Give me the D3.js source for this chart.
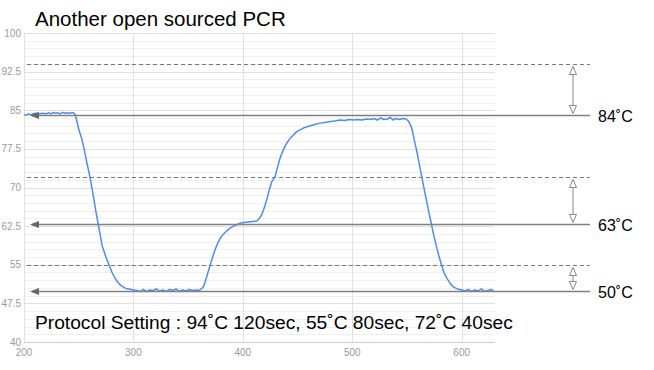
<!DOCTYPE html>
<html>
<head>
<meta charset="utf-8">
<script src="https://cdn.jsdelivr.net/npm/d3@7"></script>
<style>
  html, body { margin: 0; padding: 0; background: #fff; }
  svg { display: block; font-family: "Liberation Sans", Arial, sans-serif; }
</style>
</head>
<body>
<svg id="chart" width="654" height="370"></svg>
<script>
// ---- data ----
const title = "Another open sourced PCR";
const protocolText = "Protocol Setting : 94˚C 120sec, 55˚C 80sec, 72˚C 40sec";

const yTicks = [40, 47.5, 55, 62.5, 70, 77.5, 85, 92.5, 100];
const xTicks = [200, 300, 400, 500, 600];

const setpoints = [94, 72, 55];      // dashed lines (protocol)
const measured  = [84, 63, 50];      // solid arrow lines (measured plateaus)
const measuredLabels = ["84˚C", "63˚C", "50˚C"];

const times = [
  200, 202, 204, 206, 208, 211, 214, 217, 220, 223, 225, 227, 229, 231, 233, 235, 237, 239, 241, 243, 245, 246.5,
  248, 250, 252.7, 255, 257.5, 260.3, 263, 265.5, 267.4, 269.5, 271.3, 274.5, 278, 280.5, 283.2, 286, 288.5, 290.5, 293, 296, 300,
  303, 306, 309, 312, 315, 318, 321, 324, 327, 330, 333, 336, 339, 342, 345, 348, 351, 354, 357, 360, 361.5,
  363.9, 365.5, 367, 368.5, 370, 372.3, 374.6, 377.5, 380.7, 384.5, 388.3, 392.5, 397.4, 401, 405, 409, 412.7,
  415, 417.3, 419.5, 421.8, 424, 426.4, 429.4, 431.7, 434, 437, 440.1, 443, 446.2, 449, 452.3, 456, 460, 465, 470.6,
  475, 480, 484, 488.8, 493, 497, 501, 505, 509, 513, 517, 520, 523, 526, 529, 532, 535, 537, 540, 543, 546.4, 549, 551,
  552.8, 554.4, 556.7, 559, 561.3, 563.5, 565.8, 568.1, 570, 572, 574.3, 576.6, 579.2, 581.8, 584, 586.4, 589.5, 592.4, 596, 600.1,
  603, 606, 609, 612, 615, 618, 621, 624, 627, 629
];
const temps = [
  84.2, 84.0, 84.3, 84.1, 84.3, 84.4, 84.3, 84.4, 84.3, 84.5, 84.3, 84.6, 84.4, 84.5, 84.3, 84.6, 84.4, 84.5, 84.4, 84.5, 84.5, 84.3,
  83.2, 81.3, 79.5, 77.4, 74.8, 72.0, 68.8, 65.6, 63.4, 61.0, 58.8, 56.7, 54.8, 53.5, 52.4, 51.5, 51.0, 50.7, 50.4, 50.3, 50.1,
  50.0, 49.8, 50.2, 49.8, 50.1, 50.0, 50.3, 49.9, 50.1, 49.8, 50.2, 50.0, 50.3, 49.8, 50.1, 49.9, 50.2, 50.0, 50.1, 50.0, 50.2,
  50.7, 51.6, 52.7, 53.8, 54.8, 56.4, 57.9, 59.4, 60.6, 61.4, 62.1, 62.6, 63.05, 63.2, 63.3, 63.4, 63.5,
  64.0, 64.7, 66.0, 67.6, 69.4, 71.1, 72.1, 73.9, 75.7, 77.3, 78.6, 79.5, 80.2, 80.8, 81.2, 81.6, 81.9, 82.2, 82.5,
  82.6, 82.8, 82.9, 83.1, 83.0, 83.2, 83.1, 83.2, 83.1, 83.3, 83.2, 83.4, 83.1, 83.5, 83.2, 83.3, 83.6, 83.1, 83.4, 83.2, 83.4, 83.3, 83.0,
  82.3, 81.5, 79.2, 77.0, 74.5, 72.1, 69.6, 67.2, 65.2, 63.2, 60.9, 58.8, 56.7, 54.8, 53.4, 52.4, 51.4, 50.7, 50.3, 50.1,
  49.9, 50.2, 49.8, 50.1, 49.9, 50.3, 49.8, 50.0, 50.2, 49.9
];

// ---- layout ----
const svg = d3.select("#chart");
const x = d3.scaleLinear().domain([200, 630]).range([24, 494.5]);
const y = d3.scaleLinear().domain([40, 100]).range([342, 33]);

const grid = svg.append("g");
// minor horizontal gridlines (every 1.5)
const minor = d3.range(40, 100.01, 1.5).filter(v => !yTicks.some(t => Math.abs(t - v) < 1e-6));
grid.selectAll("line.minor").data(minor).join("line")
  .attr("x1", x(200)).attr("x2", x(630))
  .attr("y1", d => Math.round(y(d)) + 0.5).attr("y2", d => Math.round(y(d)) + 0.5)
  .attr("stroke", "#f0f0f0").attr("stroke-width", 1);
// major horizontal gridlines
grid.selectAll("line.major").data(yTicks).join("line")
  .attr("x1", x(200)).attr("x2", x(630))
  .attr("y1", d => Math.round(y(d)) + 0.5).attr("y2", d => Math.round(y(d)) + 0.5)
  .attr("stroke", d => d === 40 ? "#cccccc" : "#e0e0e0").attr("stroke-width", 1);
// vertical gridlines
grid.selectAll("line.v").data(xTicks).join("line")
  .attr("x1", d => Math.round(x(d)) + 0.5).attr("x2", d => Math.round(x(d)) + 0.5)
  .attr("y1", y(100)).attr("y2", y(40))
  .attr("stroke", "#e0e0e0").attr("stroke-width", 1);

// y tick labels
svg.append("g").selectAll("text").data(yTicks).join("text")
  .attr("x", 21).attr("y", d => y(d)).attr("dy", "0.35em")
  .attr("text-anchor", "end").attr("font-size", 10).attr("fill", "#9a9a9a")
  .text(d => d);
// x tick labels
svg.append("g").selectAll("text").data(xTicks).join("text")
  .attr("x", d => x(d)).attr("y", 356)
  .attr("text-anchor", "middle").attr("font-size", 10).attr("fill", "#9a9a9a")
  .text(d => d);

// dashed setpoint lines
svg.append("g").selectAll("line").data(setpoints).join("line")
  .attr("x1", 27).attr("x2", 590)
  .attr("y1", d => Math.round(y(d)) + 0.5).attr("y2", d => Math.round(y(d)) + 0.5)
  .attr("stroke", "#777").attr("stroke-width", 1).attr("stroke-dasharray", "4,3");

// data line
const line = d3.line().x((d, i) => x(times[i])).y(d => y(d));
svg.append("path").datum(temps)
  .attr("d", line).attr("fill", "none")
  .attr("stroke", "#4f8bef").attr("stroke-width", 1.5).attr("stroke-linejoin", "round");

// solid measured lines with left arrowheads
const ann = svg.append("g");
measured.forEach((v, i) => {
  const yy = Math.round(y(v)) + 0.5;
  ann.append("line").attr("x1", 32).attr("x2", 590).attr("y1", yy).attr("y2", yy)
    .attr("stroke", "#808080").attr("stroke-width", 1.3);
  ann.append("path").attr("d", `M30,${yy} L39,${yy - 3.5} L39,${yy + 3.5} Z`).attr("fill", "#666");
  // vertical double arrow from setpoint to measured
  const y1 = Math.round(y(setpoints[i])) + 0.5;
  const ax = 573;
  ann.append("line").attr("x1", ax).attr("x2", ax).attr("y1", y1 + 3).attr("y2", yy - 3)
    .attr("stroke", "#999").attr("stroke-width", 1.2);
  ann.append("path").attr("d", `M${ax},${y1 + 2} L${ax - 3.5},${y1 + 10} L${ax + 3.5},${y1 + 10} Z`)
    .attr("fill", "#fff").attr("stroke", "#888").attr("stroke-width", 1);
  ann.append("path").attr("d", `M${ax},${yy - 2} L${ax - 3.5},${yy - 10} L${ax + 3.5},${yy - 10} Z`)
    .attr("fill", "#fff").attr("stroke", "#888").attr("stroke-width", 1);
  ann.append("text").attr("x", 598).attr("y", yy + 6.5)
    .attr("font-size", 16).attr("fill", "#000").text(measuredLabels[i]);
});

// title and protocol text
svg.append("text").attr("x", 35).attr("y", 26).attr("font-size", 20.5).attr("fill", "#000").text(title);
svg.append("text").attr("x", 35).attr("y", 329).attr("font-size", 19.2).attr("fill", "#000").text(protocolText);
</script>
</body>
</html>
